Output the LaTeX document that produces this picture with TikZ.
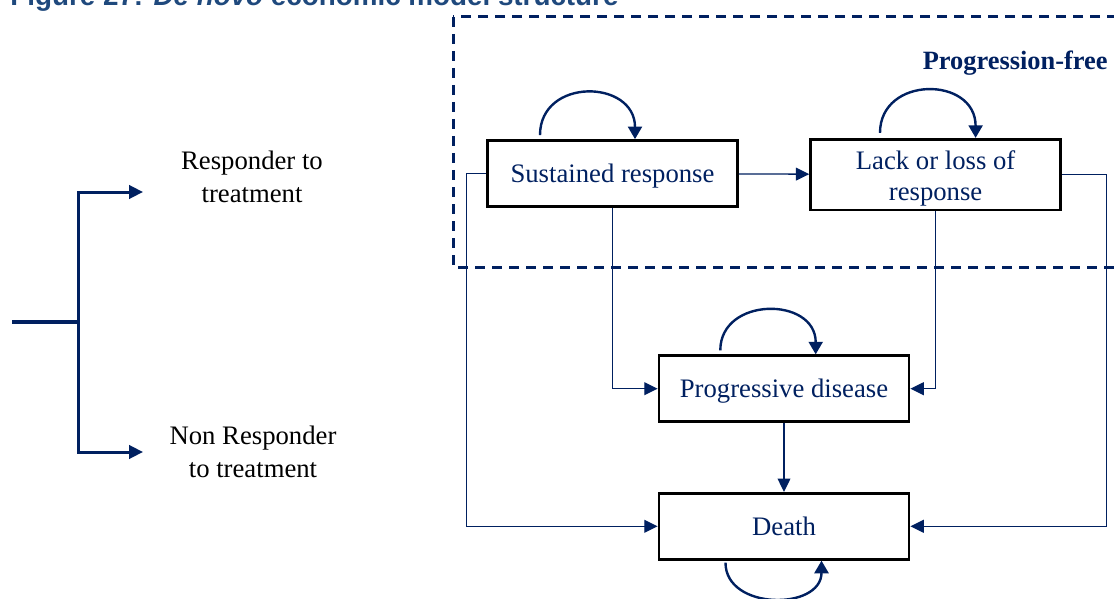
\documentclass[tikz,border=0pt]{standalone}
\usepackage{fontspec}
\setmainfont{Liberation Serif}
\newfontfamily\headfont{Liberation Sans}
\usetikzlibrary{arrows.meta}
\definecolor{navy}{RGB}{0,32,96}
\definecolor{capblue}{RGB}{31,73,125}

\begin{document}
\begin{tikzpicture}[x=0.5pt,y=-0.5pt,
	state/.style={draw=black,line width=1.35pt,minimum width=125pt,minimum height=33pt,inner sep=2pt,align=center,text=navy,font=\fontsize{13.35}{15.4}\selectfont},
	oneline/.style={text height=11.8pt,text depth=3pt},
	link/.style={navy,line width=0.65pt,-{Triangle[length=6.7pt,width=6.4pt]}},
	selfloop/.style={navy,line width=1.2pt,-{Triangle[length=6.3pt,width=7pt]}},
	branch/.style={navy,line width=1.5pt},
	armtext/.style={font=\fontsize{13.35}{16.35}\selectfont,align=center}]
		\useasboundingbox (0,0) rectangle (1114,599);
		% caption, cut at the top
		\node[anchor=base west,inner sep=0pt,text=capblue,font=\headfont\fontsize{13.9}{16}\selectfont\bfseries] (title) at (10,6) {Figure 27: \textit{De novo} economic model structure};
		% progression-free region
		\draw[navy,line width=1.5pt,dash pattern=on 5pt off 3.5pt] (453,17) rectangle (1130,267);
		\node[anchor=base east,inner sep=0pt,text=navy,font=\fontsize{13.2}{15}\selectfont\bfseries] (pf) at (1108,70) {Progression-free};
		% states
		\node[state,oneline] (sr) at (612.5,173.5) {Sustained response};
		\node[state] (llr) at (935.6,174.6) {\rule{0pt}{13.1pt}Lack or loss of\\response};
		\node[state,oneline] (pd) at (784,388.7) {Progressive disease};
		\node[state,oneline] (dth) at (784,526.3) {Death};
		% transitions
		\draw[link] (sr) -- (llr);
		\draw[link] (sr.west) -- ++(-20,0) |- (dth.west);
		\draw[link] (sr.south) |- (pd.west);
		\draw[link] (llr.south) |- (pd.east);
		\draw[link] (llr.east) -- ++(44.6,0) |- (dth.east);
		\draw[link] (pd) -- (dth);
		% staying in the same state
		\draw[selfloop] ([shift={(-72.5,-4)}]sr.north) .. controls +(0,-58) and +(0,-60) .. ([shift={(22.5,0)}]sr.north);
		\draw[selfloop] ([shift={(-55.6,-5)}]llr.north) .. controls +(0,-57.5) and +(0,-62) .. ([shift={(40,0)}]llr.north);
		\draw[selfloop] ([shift={(-63.7,-4)}]pd.north) .. controls +(0,-54) and +(0,-58) .. ([shift={(31.7,0)}]pd.north);
		\draw[selfloop] ([shift={(-58.5,2)}]dth.south) .. controls +(0,48) and +(0,50) .. ([shift={(37.5,0)}]dth.south);
		% response split
		\coordinate (root) at (12,322);
		\coordinate (fork) at (78,322);
		\coordinate (respin) at (143,192);
		\coordinate (nonin) at (143,452);
		\draw[navy,line width=2pt] (root) -- (fork);
		\draw[branch,-{Triangle[length=7pt,width=6.7pt]}] (fork) |- (respin);
		\draw[branch,-{Triangle[length=7pt,width=6.7pt]}] (fork) |- (nonin);
		\node[armtext] (resp) at (252,177) {Responder to\\treatment};
		\node[armtext] (nonresp) at (253,452) {Non Responder\\to treatment};
\end{tikzpicture}
\end{document}
